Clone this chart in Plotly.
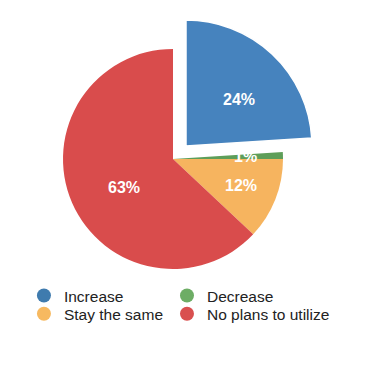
import math
import plotly.graph_objects as go

labels = ["Increase", "Decrease", "Stay the same", "No plans to utilize"]
values = [24, 1, 12, 63]
colors = ["#4683BE", "#5E9E59", "#F6B45F", "#D94C4C"]
legend_colors = ["#3F7BAE", "#6DAD65", "#F7B960", "#D9504F"]

FONT = "Liberation Sans, Arial, sans-serif"
W, H = 374, 378

# geometry (pixels): main pie and the exploded "Increase" slice
MAIN_C, MAIN_R = (173, 159), 110
EXPL_C, EXPL_R = (186, 146), 126
exploded = [True, False, False, False]


def domain(c, r):
    return dict(x=[(c[0] - r) / W, (c[0] + r) / W],
                y=[1 - (c[1] + r) / H, 1 - (c[1] - r) / H])


clear = "rgba(0,0,0,0)"
fig = go.Figure()
# main pie (exploded slice left transparent)
fig.add_trace(go.Pie(
    labels=labels, values=values, sort=False, direction="clockwise", rotation=0,
    marker=dict(colors=[clear if e else c for c, e in zip(colors, exploded)],
                line=dict(width=0)),
    textinfo="none", showlegend=False, hoverinfo="label+percent",
    domain=domain(MAIN_C, MAIN_R),
))
# exploded slice drawn larger and offset
fig.add_trace(go.Pie(
    labels=labels, values=values, sort=False, direction="clockwise", rotation=0,
    marker=dict(colors=[c if e else clear for c, e in zip(colors, exploded)],
                line=dict(color=["white" if e else clear for e in exploded],
                          width=[1.5 if e else 0 for e in exploded])),
    textinfo="none", showlegend=False, hoverinfo="label+percent",
    domain=domain(EXPL_C, EXPL_R),
))

# percent labels placed at each slice's mid-angle
total = sum(values)
cum = 0
annotations = []
for v, e in zip(values, exploded):
    mid = (cum + v / 2) / total * 2 * math.pi
    cum += v
    (cx, cy), r = (EXPL_C, EXPL_R) if e else (MAIN_C, MAIN_R)
    rr = r * (0.62 if e else 0.66)
    px = cx + rr * math.sin(mid)
    py = cy - rr * math.cos(mid)
    annotations.append(dict(
        x=px / W, y=1 - py / H, xref="paper", yref="paper", showarrow=False,
        text=f"{round(v / total * 100)}%",
        font=dict(family=FONT, size=16, color="white", weight="bold"),
    ))

# legend: one single-item legend per entry (2 x 2 grid)
legend_pos = [(0.064, 0.217), (0.4465, 0.217), (0.064, 0.169), (0.4465, 0.169)]
legend_names = ["legend", "legend2", "legend3", "legend4"]
for lab, col, lg in zip(labels, legend_colors, legend_names):
    fig.add_trace(go.Scatter(
        x=[None], y=[None], mode="markers", name=lab,
        marker=dict(symbol="circle", size=14, color=col),
        showlegend=True, legend=lg,
    ))

leg_layout = {}
for lg, (lx, ly) in zip(legend_names, legend_pos):
    leg_layout[lg] = dict(x=lx, y=ly, xanchor="left", yanchor="middle",
                          font=dict(family=FONT, size=15.5, color="#222222"),
                          bgcolor="rgba(0,0,0,0)")

fig.update_layout(
    width=W, height=H, margin=dict(l=0, r=0, t=0, b=0),
    paper_bgcolor="white", plot_bgcolor="white",
    xaxis=dict(visible=False), yaxis=dict(visible=False),
    annotations=annotations,
    font=dict(family=FONT),
    **leg_layout,
)
fig.write_html("out.html")
